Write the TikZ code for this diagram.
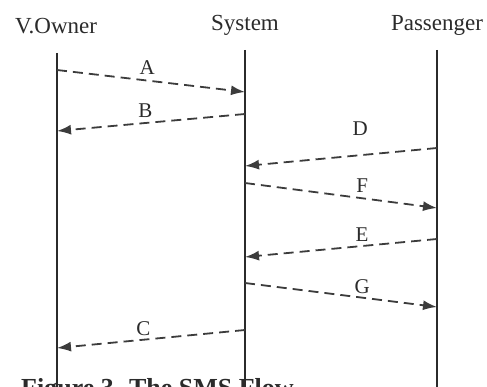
\documentclass[tikz,border=0pt]{standalone}
\usepackage{fontspec}
\setmainfont{Liberation Serif}
\usepackage{xcolor}
\usetikzlibrary{arrows.meta,positioning}

\definecolor{ink}{HTML}{2B2B2B}
\definecolor{msg}{HTML}{3C3C3C}

\begin{document}
\begin{tikzpicture}[
  x=1pt, y=-1pt,
  head/.style={text=ink, font=\fontsize{23}{26}\selectfont, inner sep=0pt},
  life/.style={draw=ink, line width=1.8pt},
  arr/.style={-{Latex[length=14pt, width=10pt]}, draw=msg, line width=1.8pt, dash pattern=on 10pt off 6pt},
  lbl/.style={text=ink, font=\fontsize{21}{24}\selectfont, inner sep=0pt}
]
\useasboundingbox (0,0) rectangle (487,387);

% participants
\node[head] (owner) at (56,26) {V.Owner};
\node[head] (system) at (245,25) {System};
\node[head] (passenger) at (437,25) {Passenger};

\coordinate (ownerTop) at (57,53);
\coordinate (ownerEnd) at (57,395);
\coordinate (systemTop) at (245,50);
\coordinate (systemEnd) at (245,395);
\coordinate (passengerTop) at (437,50);
\coordinate (passengerEnd) at (437,395);

% caption, cut off at the bottom
\node[anchor=base west, text=ink, inner sep=0pt, font=\fontsize{26}{30}\selectfont\bfseries] (caption) at (21,396) {Figure 3. The SMS Flow};

\draw[life] (ownerTop) -- (ownerEnd);
\draw[life] (systemTop) -- (systemEnd);
\draw[life] (passengerTop) -- (passengerEnd);

% message ends on the lifelines
\coordinate (a1) at (57,70);   \coordinate (a2) at (245,92);
\coordinate (b1) at (245,114); \coordinate (b2) at (57,131);
\coordinate (d1) at (437,148); \coordinate (d2) at (245,166);
\coordinate (f1) at (245,183); \coordinate (f2) at (437,208);
\coordinate (e1) at (437,239); \coordinate (e2) at (245,257);
\coordinate (g1) at (245,283); \coordinate (g2) at (437,307);
\coordinate (c1) at (245,330); \coordinate (c2) at (57,348);

% messages
\draw[arr] (a1) -- node[lbl, pos=0.48, above=5pt] (la) {A} (a2);
\draw[arr] (b1) -- node[lbl, pos=0.53, above=5pt] (lb) {B} (b2);
\draw[arr] (d1) -- node[lbl, pos=0.40, above=19pt] (ld) {D} (d2);
\draw[arr] (f1) -- node[lbl, pos=0.61, above=5pt] (lf) {F} (f2);
\draw[arr] (e1) -- node[lbl, pos=0.39, above=4pt] (le) {E} (e2);
\draw[arr] (g1) -- node[lbl, pos=0.61, above=3pt] (lg) {G} (g2);
\draw[arr] (c1) -- node[lbl, pos=0.54, above=3pt] (lc) {C} (c2);
\end{tikzpicture}
\end{document}
